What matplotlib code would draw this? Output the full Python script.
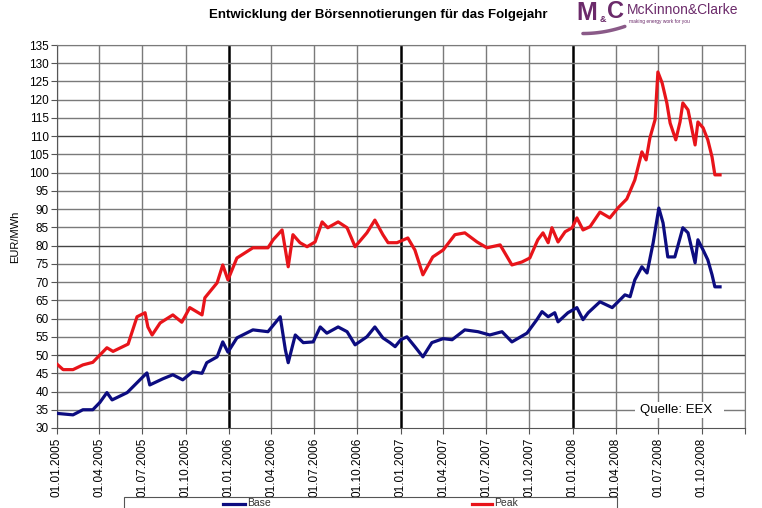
import matplotlib.pyplot as plt
import pandas as pd
import numpy as np
from matplotlib.patches import Rectangle

# Terminpreise Folgejahr (EEX)
peak_dates = [
    "2005-01-01", "2005-01-14", "2005-02-04", "2005-02-25", "2005-03-18", "2005-04-02",
    "2005-04-17", "2005-04-30", "2005-06-01", "2005-06-20", "2005-07-07", "2005-07-13",
    "2005-07-22", "2005-08-08", "2005-09-04", "2005-09-23", "2005-10-10", "2005-11-05",
    "2005-11-11", "2005-12-07", "2005-12-19", "2005-12-30", "2006-01-18", "2006-02-21",
    "2006-03-25", "2006-04-05", "2006-04-24", "2006-05-07", "2006-05-17", "2006-06-01",
    "2006-06-16", "2006-07-03", "2006-07-18", "2006-07-30", "2006-08-21", "2006-09-09",
    "2006-09-26", "2006-10-21", "2006-11-07", "2006-11-24", "2006-12-05", "2006-12-24",
    "2007-01-16", "2007-01-31", "2007-02-17", "2007-03-10", "2007-04-01", "2007-04-26",
    "2007-05-17", "2007-06-12", "2007-07-03", "2007-07-31", "2007-08-25", "2007-09-15",
    "2007-10-02", "2007-10-19", "2007-10-30", "2007-11-10", "2007-11-18", "2007-12-01",
    "2007-12-16", "2007-12-31", "2008-01-10", "2008-01-23", "2008-02-07", "2008-02-28",
    "2008-03-20", "2008-04-06", "2008-04-25", "2008-05-12", "2008-05-27", "2008-06-05",
    "2008-06-13", "2008-06-24", "2008-06-30", "2008-07-09", "2008-07-19", "2008-07-26",
    "2008-08-07", "2008-08-16", "2008-08-22", "2008-09-02", "2008-09-17", "2008-09-23",
    "2008-10-04", "2008-10-14", "2008-10-23", "2008-10-29", "2008-11-09",
]
peak = [
    47.5, 46.0, 46.0, 47.3, 48.0, 50.0,
    52.0, 51.0, 53.0, 60.5, 61.6, 57.7,
    55.5, 58.8, 61.0, 59.0, 63.0, 61.0,
    65.7, 69.8, 74.7, 70.6, 76.6, 79.4,
    79.4, 81.6, 84.3, 74.2, 83.0, 80.8,
    79.7, 81.0, 86.5, 84.9, 86.5, 84.9,
    79.7, 83.5, 87.0, 83.0, 80.8, 80.8,
    82.1, 78.8, 72.0, 76.9, 78.8, 83.0,
    83.5, 81.0, 79.4, 80.2, 74.7, 75.5,
    76.6, 81.6, 83.5, 80.8, 84.9, 81.0,
    83.8, 84.9, 87.6, 84.3, 85.2, 89.2,
    87.6, 90.3, 92.8, 98.0, 105.7, 103.5,
    109.5, 114.5, 127.6, 124.6, 119.1, 113.6,
    109.0, 113.9, 119.1, 117.2, 107.6, 113.9,
    112.3, 109.0, 104.3, 99.4, 99.4,
]

base_dates = [
    "2005-01-01", "2005-02-04", "2005-02-25", "2005-03-18", "2005-04-02", "2005-04-17",
    "2005-04-28", "2005-05-30", "2005-06-26", "2005-07-11", "2005-07-17", "2005-08-14",
    "2005-09-04", "2005-09-25", "2005-10-16", "2005-11-05", "2005-11-15", "2005-12-07",
    "2005-12-19", "2005-12-30", "2006-01-18", "2006-02-21", "2006-03-25", "2006-04-20",
    "2006-05-01", "2006-05-07", "2006-05-22", "2006-06-08", "2006-06-29", "2006-07-14",
    "2006-07-28", "2006-08-21", "2006-09-09", "2006-09-26", "2006-10-21", "2006-11-07",
    "2006-11-24", "2006-12-09", "2006-12-20", "2007-01-01", "2007-01-14", "2007-01-31",
    "2007-02-17", "2007-03-08", "2007-04-01", "2007-04-20", "2007-05-17", "2007-06-14",
    "2007-07-09", "2007-08-04", "2007-08-25", "2007-09-26", "2007-10-17", "2007-10-28",
    "2007-11-10", "2007-11-24", "2007-12-01", "2007-12-22", "2008-01-10", "2008-01-23",
    "2008-02-03", "2008-02-28", "2008-03-25", "2008-04-21", "2008-05-02", "2008-05-12",
    "2008-05-27", "2008-06-07", "2008-06-20", "2008-07-02", "2008-07-11", "2008-07-21",
    "2008-08-05", "2008-08-22", "2008-09-02", "2008-09-17", "2008-09-23", "2008-10-04",
    "2008-10-14", "2008-10-23", "2008-10-29", "2008-11-09",
]
base = [
    34.0, 33.6, 35.0, 35.0, 37.0, 39.7,
    37.7, 39.7, 43.2, 45.1, 41.8, 43.5,
    44.6, 43.2, 45.4, 45.0, 47.9, 49.5,
    53.6, 50.8, 54.7, 56.9, 56.4, 60.5,
    51.4, 47.9, 55.5, 53.4, 53.6, 57.7,
    56.0, 57.7, 56.4, 52.8, 55.0, 57.7,
    54.7, 53.4, 52.3, 54.2, 55.0, 52.3,
    49.5, 53.4, 54.5, 54.2, 56.9, 56.4,
    55.5, 56.4, 53.6, 56.0, 59.7, 61.9,
    60.5, 61.6, 59.1, 61.6, 63.0, 59.7,
    61.6, 64.6, 63.0, 66.5, 66.0, 70.6,
    74.2, 72.5, 80.8, 90.3, 86.2, 76.9,
    76.9, 84.9, 83.5, 75.3, 81.6, 78.8,
    76.1, 72.0, 68.7, 68.7,
]

plt.rcParams['font.family'] = ['Liberation Sans', 'DejaVu Sans']

fig = plt.figure(figsize=(7.62, 5.08), dpi=100)
ax = fig.add_axes([0.0748, 0.1575, 0.9029, 0.7539])

# Gitter
quarters = pd.date_range("2005-01-01", "2009-01-01", freq="QS")
for d in quarters:
    if d.month == 1 and d.year in (2006, 2007, 2008):
        ax.axvline(d, color="black", lw=1.8, zorder=1)
    else:
        ax.axvline(d, color="#7a7a7a", lw=1.0, zorder=1)
for v in range(35, 136, 5):
    c = "#444444" if v in (50, 80, 110) else "#7a7a7a"
    ax.axhline(v, color=c, lw=1.0, zorder=1)

ax.plot(pd.to_datetime(base_dates), base, color="#0c0c80", lw=2.3, label="Base", zorder=3)
ax.plot(pd.to_datetime(peak_dates), peak, color="#e8141a", lw=2.3, label="Peak", zorder=3)

ax.set_xlim(pd.Timestamp("2005-01-01"), pd.Timestamp("2009-01-01"))
ax.set_ylim(30, 135)
ax.set_yticks(range(30, 136, 5))
ax.set_xticks(quarters)
ax.set_xticklabels([d.strftime("%d.%m.%Y") if d.year < 2009 else "" for d in quarters],
                   rotation=90, fontsize=8.5)
ax.tick_params(axis="y", labelsize=8.5, length=4, width=0.8, color="#555555", pad=2)
ax.tick_params(axis="x", length=4, width=0.8, color="#555555", pad=3)
for s in ax.spines.values():
    s.set_color("#7a7a7a")
ax.spines["left"].set_color("#555555")
ax.spines["bottom"].set_color("#555555")
ax.set_ylabel("EUR/MWh", fontsize=8, labelpad=6)

ax.add_patch(Rectangle((0.840, 0.025), 0.130, 0.043, transform=ax.transAxes,
                       facecolor="white", edgecolor="none", zorder=4))
ax.text(0.953, 0.046, "Quelle: EEX", transform=ax.transAxes, ha="right", va="center",
        fontsize=9.5, zorder=5)

fig.text(0.497, 0.970, "Entwicklung der Börsennotierungen für das Folgejahr",
         ha="center", va="center", fontsize=9.5, fontweight="bold")

# Logo
purple = "#6b2a6a"
fig.text(0.757, 0.975, "M", color=purple, fontsize=18, fontweight="bold",
         ha="left", va="center")
fig.text(0.787, 0.962, "&", color=purple, fontsize=6.5, fontweight="bold", ha="left", va="center")
fig.text(0.797, 0.978, "C", color=purple, fontsize=17, fontweight="bold",
         ha="left", va="center")
fig.text(0.823, 0.980, "McKinnon&Clarke", color=purple, fontsize=10,
         ha="left", va="center")
fig.text(0.825, 0.958, "making energy work for you", color=purple, fontsize=3.5,
         ha="left", va="center")
t = np.linspace(0, 1, 30)
fig.lines.append(plt.Line2D(0.765 + 0.055 * t, 0.934 + 0.014 * t ** 2, transform=fig.transFigure,
                            color="#8a5a88", lw=2.5, solid_capstyle="round"))

# Legende (unten abgeschnitten)
fig.patches.append(Rectangle((124 / 762, -0.05), (617 - 124) / 762, 0.05 + (508 - 497) / 508,
                             transform=fig.transFigure, facecolor="white",
                             edgecolor="#555555", lw=0.8))
fig.lines.append(plt.Line2D([223 / 762, 245 / 762], [1 - 504 / 508] * 2, transform=fig.transFigure,
                            color="#0c0c80", lw=2.3))
fig.text(247 / 762, 1 - 503 / 508, "Base", fontsize=7.5, ha="left", va="center", color="#333333")
fig.lines.append(plt.Line2D([472 / 762, 492 / 762], [1 - 504 / 508] * 2, transform=fig.transFigure,
                            color="#e8141a", lw=2.3))
fig.text(494 / 762, 1 - 503 / 508, "Peak", fontsize=7.5, ha="left", va="center", color="#333333")

fig.savefig("out.png", dpi=100)
